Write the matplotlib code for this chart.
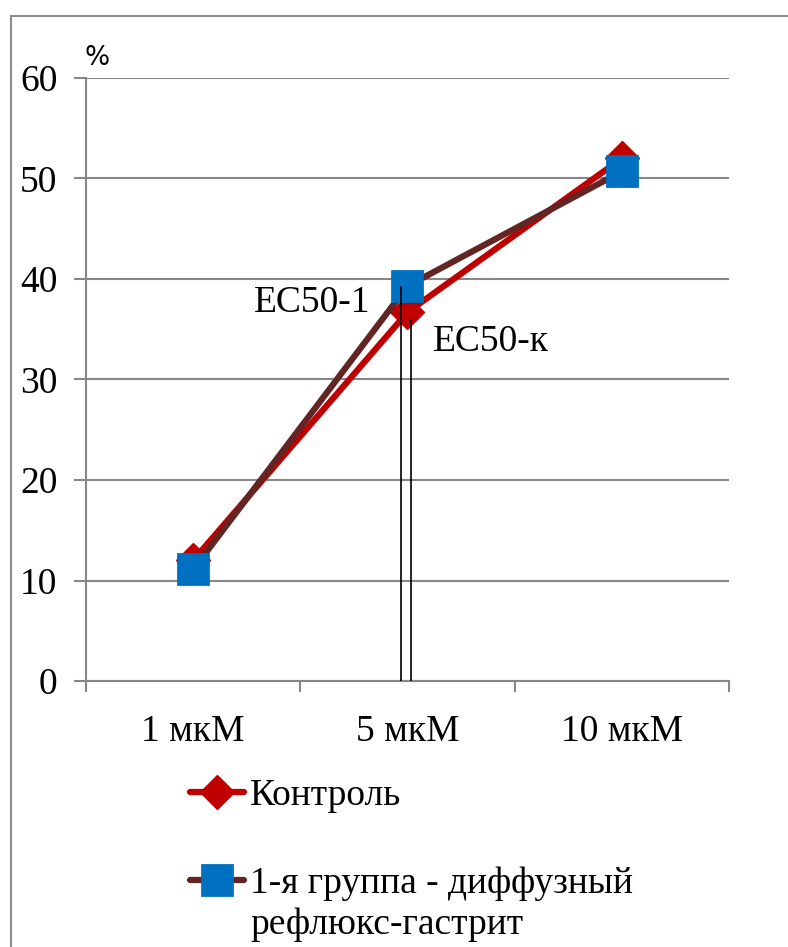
import matplotlib
matplotlib.use("Agg")
import matplotlib.pyplot as plt
from matplotlib.lines import Line2D

categories = ["1 мкМ", "5 мкМ", "10 мкМ"]
control = [12.0, 36.7, 52.0]
group1 = [11.1, 39.3, 50.7]
series_names = ["Контроль", "1-я группа - диффузный\nрефлюкс-гастрит"]
ec50_x = [0.97, 1.015]
ec50_y = [39.2, 35.9]
ec50_labels = ["EC50-1", "EC50-к"]
yticks = [0, 10, 20, 30, 40, 50, 60]

serif = ["Liberation Serif", "DejaVu Serif"]
fs = 27
gray = "#878787"

fig = plt.figure(figsize=(7.88, 9.47), dpi=100)
ax = fig.add_axes([86/788, 266/947, (729-86)/788, (681-78)/947])

x = list(range(len(categories)))
name1_lines = series_names[1].split("\n")
ax.plot(x, control, color="#C00000", lw=4.5, marker="D", ms=17,
        mfc="#C00000", mec="#C00000", solid_capstyle="round", zorder=3,
        label=series_names[0])
ax.plot(x, group1, color="#632523", lw=4.5, marker="s", ms=21,
        mfc="#0070C0", mec="#0070C0", mew=2, solid_capstyle="round",
        solid_joinstyle="round", zorder=4, label=name1_lines[0])

for xi, yi in zip(ec50_x, ec50_y):
    ax.plot([xi, xi], [0, yi], color="black", lw=1.2, zorder=5)

ax.text(0.825, 37.6, ec50_labels[0], ha="right", va="center",
        fontsize=fs, family=serif)
ax.text(1.119, 33.8, ec50_labels[1], ha="left", va="center",
        fontsize=fs, family=serif)

ax.set_xlim(-0.5, 2.5)
ax.set_ylim(0, 60)
ax.set_yticks(yticks)
ax.set_yticklabels([str(v) for v in yticks], fontsize=fs, family=serif)
ax.tick_params(axis="y", length=8.6, width=1.5, color=gray, pad=12)

ax.set_xticks([-0.5, 0.5, 1.5, 2.5])
ax.set_xticklabels([])
ax.set_xticks(x, minor=True)
ax.set_xticklabels(categories, minor=True, fontsize=fs, family=serif)
ax.tick_params(axis="x", which="major", length=8, width=1.5, color=gray)
ax.tick_params(axis="x", which="minor", length=0, pad=24)

ax.grid(axis="y", color=gray, lw=1.5)
ax.set_axisbelow(True)
for s in ["top", "right"]:
    ax.spines[s].set_visible(False)
for s in ["left", "bottom"]:
    ax.spines[s].set_color(gray)
    ax.spines[s].set_linewidth(1.5)

fig.text(85/788, 1 - 58/947, "%", fontsize=19, family="DejaVu Sans",
         ha="left", va="center")

leg = ax.legend(loc="upper left", bbox_to_anchor=(171/788, 1 - 760/947),
                bbox_transform=fig.transFigure, frameon=False,
                prop={"family": serif, "size": fs}, handlelength=1.45,
                handletextpad=0.15, labelspacing=1.43, borderpad=0)

# second line of the two-line legend label
fig.text(250/788, 1 - 925/947, name1_lines[1], fontsize=fs, family=serif,
         ha="left", va="center")

# outer frame
fig.add_artist(Line2D([11/788, 11/788], [0, 1 - 16/947], color="#8c8c8c", lw=1.5))
fig.add_artist(Line2D([11/788, 1], [1 - 16/947, 1 - 16/947], color="#8c8c8c", lw=1.5))

fig.savefig("out.png", dpi=100)
